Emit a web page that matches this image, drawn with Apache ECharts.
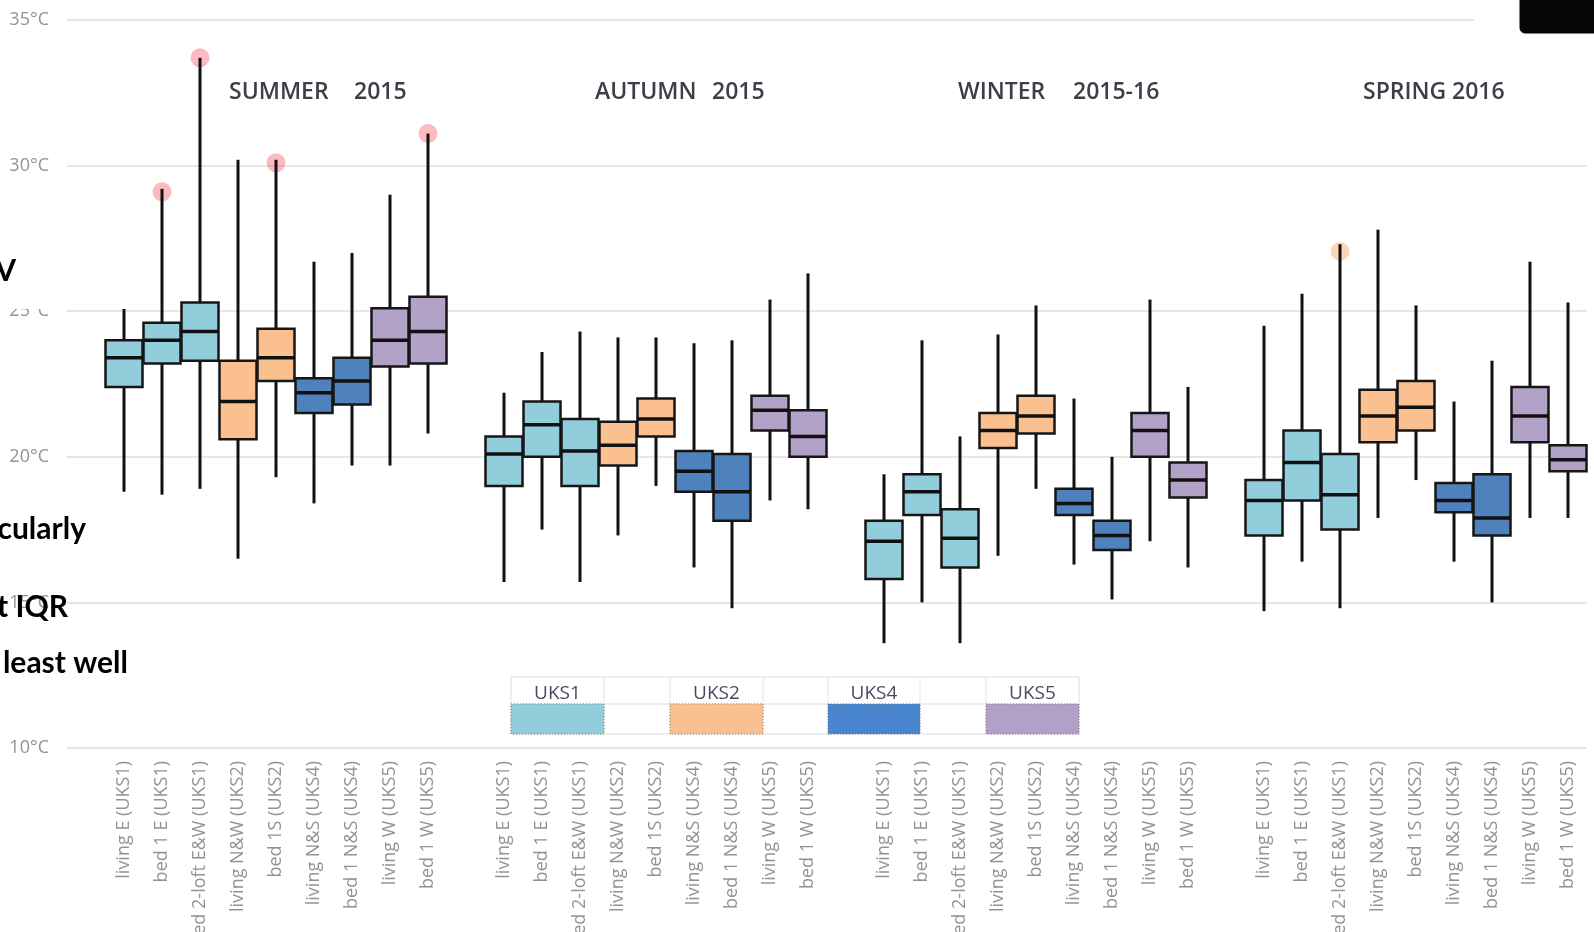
<!DOCTYPE html>
<html>
<head>
<meta charset="utf-8">
<script src="https://cdn.jsdelivr.net/npm/echarts@6/dist/echarts.min.js"></script>
<style>
  html, body { margin: 0; padding: 0; background: #fff; }
  #chart { width: 1594px; height: 932px; }
</style>
</head>
<body>
<div id="chart"></div>
<script>
// rooms measured in every season (same order each time)
const rooms = [
  "living E (UKS1)", "bed 1 E (UKS1)", "bed 2-loft E&W (UKS1)",
  "living N&W (UKS2)", "bed 1S (UKS2)",
  "living N&S (UKS4)", "bed 1 N&S (UKS4)",
  "living W (UKS5)", "bed 1 W (UKS5)"
];
const roomHouse = [0, 0, 0, 1, 1, 2, 2, 3, 3];
const seasons = ["SUMMER    2015", "AUTUMN   2015", "WINTER    2015-16", "SPRING 2016"];
const houses = ["UKS1", "UKS2", "UKS4", "UKS5"];
const yTicks = [10, 15, 20, 25, 30, 35];

// [min, Q1, median, Q3, max] in °C
const summer = [
  [18.8, 22.4, 23.4, 24.0, 25.6],
  [18.7, 23.2, 24.0, 24.6, 29.2],
  [18.9, 23.3, 24.3, 25.3, 33.7],
  [16.5, 20.6, 21.9, 23.3, 30.2],
  [19.3, 22.6, 23.4, 24.4, 30.2],
  [18.4, 21.5, 22.2, 22.7, 26.7],
  [19.7, 21.8, 22.6, 23.4, 27.0],
  [19.7, 23.1, 24.0, 25.1, 29.0],
  [20.8, 23.2, 24.3, 25.5, 31.1]
];
const autumn = [
  [15.7, 19.0, 20.1, 20.7, 22.2],
  [17.5, 20.0, 21.1, 21.9, 23.6],
  [15.7, 19.0, 20.2, 21.3, 24.3],
  [17.3, 19.7, 20.4, 21.2, 24.1],
  [19.0, 20.7, 21.3, 22.0, 24.1],
  [16.2, 18.8, 19.5, 20.2, 23.9],
  [14.8, 17.8, 18.8, 20.1, 24.0],
  [18.5, 20.9, 21.6, 22.1, 25.4],
  [18.2, 20.0, 20.7, 21.6, 26.3]
];
const winter = [
  [13.6, 15.8, 17.1, 17.8, 19.4],
  [15.0, 18.0, 18.8, 19.4, 24.0],
  [13.6, 16.2, 17.2, 18.2, 20.7],
  [16.6, 20.3, 20.9, 21.5, 24.2],
  [18.9, 20.8, 21.4, 22.1, 25.2],
  [16.3, 18.0, 18.4, 18.9, 22.0],
  [15.1, 16.8, 17.3, 17.8, 20.0],
  [17.1, 20.0, 20.9, 21.5, 25.4],
  [16.2, 18.6, 19.2, 19.8, 22.4]
];
const spring = [
  [14.7, 17.3, 18.5, 19.2, 24.5],
  [16.4, 18.5, 19.8, 20.9, 25.6],
  [14.8, 17.5, 18.7, 20.1, 27.3],
  [17.9, 20.5, 21.4, 22.3, 27.8],
  [19.2, 20.9, 21.7, 22.6, 25.2],
  [16.4, 18.1, 18.5, 19.1, 21.9],
  [15.0, 17.3, 17.9, 19.4, 23.3],
  [17.9, 20.5, 21.4, 22.4, 26.7],
  [17.9, 19.5, 19.9, 20.4, 25.3]
];
// outliers: [room index, value]
const summerOutliers = [[1, 29.1], [2, 33.7], [4, 30.1], [8, 31.1]];
const springOutliers = [[2, 27.05]];

const houseColors = ["#92CDDC", "#FAC090", "#4F81BD", "#B3A2C7"];
const swatchColors = ["#92CDDC", "#FAC090", "#4A86D0", "#B1A0C7"];

// category axis: one empty slot before each season block
const categories = [];
const seasonData = [summer, autumn, winter, spring];
seasonData.forEach(function () {
  categories.push("");
  rooms.forEach(function (r) { categories.push(r); });
});
const slot = function (s, r) { return 1 + s * 10 + r; };

const boxData = [];
seasonData.forEach(function (arr, s) {
  arr.forEach(function (v, r) {
    boxData.push([slot(s, r)].concat(v, [roomHouse[r]]));
  });
});
const outlierData = [];
summerOutliers.forEach(function (o) {
  outlierData.push({ value: [slot(0, o[0]), o[1]], itemStyle: { color: "rgba(244,110,122,0.6)" } });
});
springOutliers.forEach(function (o) {
  outlierData.push({ value: [slot(3, o[0]), o[1]], itemStyle: { color: "rgba(248,178,118,0.65)" } });
});

// box + whiskers without end caps, thicker median
function renderBox(params, api) {
  const x = api.value(0);
  const pMin = api.coord([x, api.value(1)]);
  const pQ1 = api.coord([x, api.value(2)]);
  const pMed = api.coord([x, api.value(3)]);
  const pQ3 = api.coord([x, api.value(4)]);
  const pMax = api.coord([x, api.value(5)]);
  const w = api.size([1, 0])[0] - 1;
  const cx = pMin[0];
  const color = houseColors[api.value(6)];
  return {
    type: "group",
    children: [
      { type: "line", shape: { x1: cx, y1: pMax[1], x2: cx, y2: pQ3[1] }, style: { stroke: "#111", lineWidth: 3 } },
      { type: "line", shape: { x1: cx, y1: pQ1[1], x2: cx, y2: pMin[1] }, style: { stroke: "#111", lineWidth: 3 } },
      { type: "rect", shape: { x: cx - w / 2, y: pQ3[1], width: w, height: pQ1[1] - pQ3[1] },
        style: { fill: color, stroke: "#161616", lineWidth: 2.5 } },
      { type: "line", shape: { x1: cx - w / 2, y1: pMed[1], x2: cx + w / 2, y2: pMed[1] },
        style: { stroke: "#111", lineWidth: 3.5 } }
    ]
  };
}

// season headings, one text per word
const titleX = [[229, 354], [595, 712], [958, 1073], [1363, 1452]];
const graphics = [];
seasons.forEach(function (t, i) {
  t.split(/\s+/).forEach(function (word, j) {
    graphics.push({
      type: "text", left: titleX[i][j], top: 81, z: 50,
      style: { text: word, fill: "#3b3f48", font: "600 23px 'Open Sans', sans-serif" }
    });
  });
});

// legend table
const colX = [511, 604, 670, 763, 828, 920, 986, 1079];
const tTop = 677, tMid = 704, tBot = 734;
const table = [];
table.push({ type: "rect", shape: { x: colX[0], y: tTop, width: colX[7] - colX[0], height: tBot - tTop },
  style: { fill: "#fff", stroke: "#dcdcdc", lineWidth: 1 } });
table.push({ type: "line", shape: { x1: colX[0], y1: tMid, x2: colX[7], y2: tMid }, style: { stroke: "#dcdcdc" } });
for (let i = 1; i < 7; i++) {
  table.push({ type: "line", shape: { x1: colX[i], y1: tTop, x2: colX[i], y2: tBot }, style: { stroke: "#e4e4e4" } });
}
houses.forEach(function (h, i) {
  const x0 = colX[i * 2], x1 = colX[i * 2 + 1];
  table.push({ type: "text", style: { text: h, x: (x0 + x1) / 2, y: (tTop + tMid) / 2 + 3, align: "center",
    verticalAlign: "middle", fill: "#4a4a66", font: "19px 'Open Sans', sans-serif" } });
  table.push({ type: "rect", shape: { x: x0, y: tMid, width: x1 - x0, height: tBot - tMid },
    style: { fill: swatchColors[i], stroke: "#777", lineWidth: 1, lineDash: [1, 2] } });
});
graphics.push({ type: "group", z: 50, children: table });

// fragments of overlapping slide text on the left
graphics.push({ type: "rect", z: 60, shape: { x: 0, y: 200, width: 133, height: 109 }, style: { fill: "#fff" } });
const frag = [["V", 16, 271], ["cularly", 86, 529], ["t IQR", 68, 607], ["least well", 128, 663]];
frag.forEach(function (f) {
  graphics.push({ type: "text", z: 61, style: { text: f[0], x: f[1], y: f[2], align: "right", verticalAlign: "middle",
    fill: "#000", font: "bold 30px Lato, sans-serif" } });
});
// dark logo box top right
graphics.push({ type: "rect", z: 60, shape: { x: 1474, y: 8, width: 120, height: 26 }, style: { fill: "#fff" } });
graphics.push({ type: "rect", z: 61, shape: { x: 1520, y: -6, width: 80, height: 39, r: 5 },
  style: { fill: "#050505", stroke: "#000", lineWidth: 1 } });

const chart = echarts.init(document.getElementById("chart"));
chart.setOption({
  animation: false,
  backgroundColor: "#fff",
  grid: { left: 67, right: 7, top: 20, bottom: 184, containLabel: false, outerBoundsMode: "none" },
  xAxis: {
    type: "category",
    data: categories,
    boundaryGap: true,
    axisLine: { show: false },
    axisTick: { show: false },
    axisLabel: {
      interval: 0, rotate: 90, margin: 13,
      color: "#939393", fontSize: 18, fontFamily: "'Open Sans', sans-serif"
    },
    splitLine: { show: false }
  },
  yAxis: {
    type: "value",
    min: yTicks[0], max: yTicks[yTicks.length - 1], interval: 5,
    axisLine: { show: false },
    axisTick: { show: false },
    axisLabel: {
      formatter: "{value}°C", margin: 18,
      color: "#939393", fontSize: 18, fontFamily: "'Open Sans', sans-serif"
    },
    splitLine: { lineStyle: { color: "#e6e6e6", width: 2 } }
  },
  series: [
    {
      type: "scatter",
      z: 1,
      symbolSize: 19,
      data: outlierData
    },
    {
      type: "custom",
      z: 2,
      renderItem: renderBox,
      encode: { x: 0, y: [1, 2, 3, 4, 5] },
      data: boxData
    }
  ],
  graphic: graphics
});
</script>
</body>
</html>
